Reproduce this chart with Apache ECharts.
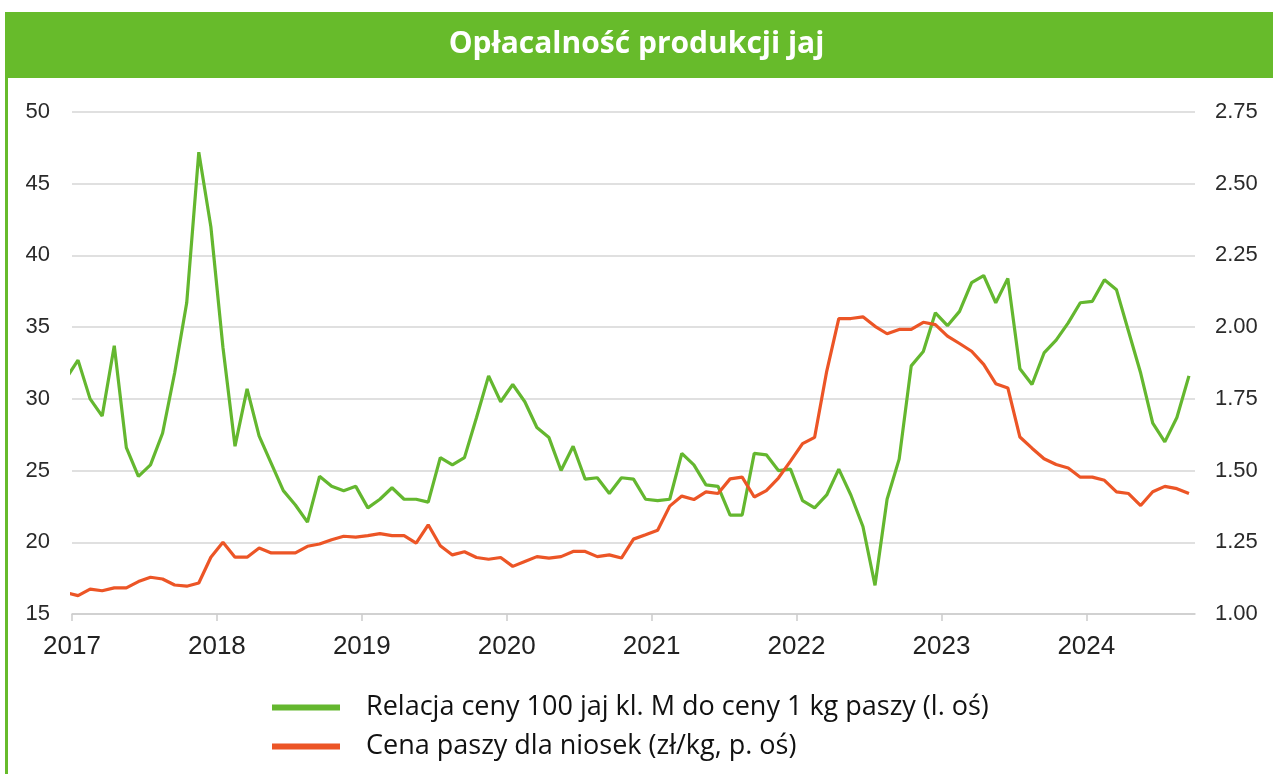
<!DOCTYPE html>
<html lang="pl">
<head>
<meta charset="UTF-8">
<title>Opłacalność produkcji jaj</title>
<script src="https://cdn.jsdelivr.net/npm/echarts@6/dist/echarts.min.js"></script>
<style>
  html, body { margin: 0; padding: 0; background: #fff; }
  #main { width: 1273px; height: 774px; }
</style>
</head>
<body>
<div id="main"></div>
<script>
// x-axis year labels (one per January)
var years = ['2017', '2018', '2019', '2020', '2021', '2022', '2023', '2024'];

// monthly values, first point = Dec 2016 (only partly visible), last = Sep 2024
// relacja ceny 100 jaj kl. M do ceny 1 kg paszy (lewa oś)
var eggFeedRatio = [
  31.4,
  32.7, 30.0, 28.8, 33.7, 26.6, 24.6, 25.4, 27.6, 31.8, 36.7, 47.2, 42.0,
  33.6, 26.7, 30.7, 27.4, 25.5, 23.6, 22.6, 21.4, 24.6, 23.9, 23.6, 23.9,
  22.4, 23.0, 23.8, 23.0, 23.0, 22.8, 25.9, 25.4, 25.9, 28.7, 31.6, 29.8,
  31.0, 29.8, 28.0, 27.3, 25.0, 26.7, 24.4, 24.5, 23.4, 24.5, 24.4, 23.0,
  22.9, 23.0, 26.2, 25.4, 24.0, 23.9, 21.9, 21.9, 26.2, 26.1, 25.0, 25.1,
  22.9, 22.4, 23.3, 25.1, 23.3, 21.1, 17.0, 23.0, 25.8, 32.3, 33.3, 36.0,
  35.1, 36.1, 38.1, 38.6, 36.7, 38.4, 32.1, 31.0, 33.2, 34.1, 35.3, 36.7,
  36.8, 38.3, 37.6, 34.7, 31.8, 28.3, 27.0, 28.7, 31.6
];

// cena paszy dla niosek, zł/kg (prawa oś)
var feedPrice = [
  1.075,
  1.064, 1.087, 1.081, 1.091, 1.091, 1.113, 1.128, 1.122, 1.101, 1.097, 1.108, 1.198,
  1.250, 1.198, 1.198, 1.230, 1.213, 1.213, 1.213, 1.236, 1.244, 1.259, 1.271, 1.268,
  1.273, 1.280, 1.273, 1.273, 1.247, 1.311, 1.238, 1.206, 1.217, 1.197, 1.191, 1.197,
  1.166, 1.183, 1.200, 1.195, 1.200, 1.218, 1.218, 1.200, 1.206, 1.195, 1.261, 1.276,
  1.292, 1.376, 1.411, 1.399, 1.426, 1.420, 1.471, 1.477, 1.408, 1.430, 1.474, 1.533,
  1.594, 1.616, 1.846, 2.030, 2.030, 2.036, 2.003, 1.977, 1.992, 1.992, 2.017, 2.009,
  1.969, 1.943, 1.916, 1.870, 1.803, 1.788, 1.617, 1.578, 1.541, 1.521, 1.509, 1.477,
  1.477, 1.466, 1.426, 1.420, 1.378, 1.426, 1.445, 1.437, 1.420
];

var seriesNames = [
  'Relacja ceny 100 jaj kl. M do ceny 1 kg paszy (l. oś)',
  'Cena paszy dla niosek (zł/kg, p. oś)'
];

// x = months since 1 Jan 2017, points sit mid-month
function toPoints(arr) {
  return arr.map(function (v, i) { return [i - 0.5, v]; });
}
var yearTicks = years.map(function (y, i) { return i * 12; });

var chart = echarts.init(document.getElementById('main'));
var option = {
  backgroundColor: '#fff',
  animation: false,
  title: {
    text: 'Opłacalność produkcji jaj',
    left: 'center',
    top: 24,
    z: 10,
    textStyle: { color: '#fff', fontFamily: 'Open Sans', fontWeight: 'bold', fontSize: 30 }
  },
  graphic: [
    { type: 'rect', z: 0, shape: { x: 5, y: 12, width: 1268, height: 66 }, style: { fill: '#67bb2b' } },
    { type: 'rect', z: 0, shape: { x: 5, y: 12, width: 3, height: 762 }, style: { fill: '#67bb2b' } }
  ],
  legend: {
    orient: 'vertical',
    left: 267,
    top: 689,
    icon: 'rect',
    itemWidth: 68,
    itemHeight: 6,
    itemGap: 12,
    textStyle: { fontFamily: 'Open Sans', fontSize: 27, color: '#111', padding: [0, 0, 0, 21] },
    data: seriesNames
  },
  grid: { left: 72, right: 78, top: 112, bottom: 160 },
  xAxis: {
    type: 'value',
    min: 0,
    max: 93,
    axisLine: { lineStyle: { color: '#cbcbcb', width: 1.5 } },
    axisTick: { length: 7, customValues: yearTicks, lineStyle: { color: '#cbcbcb', width: 1.5 } },
    axisLabel: {
      customValues: yearTicks,
      formatter: function (v) { return years[Math.round(v / 12)]; },
      fontFamily: 'Liberation Sans',
      fontSize: 26,
      color: '#222',
      margin: 20
    },
    splitLine: { show: false }
  },
  yAxis: [
    {
      type: 'value',
      position: 'left',
      min: 15,
      max: 50,
      interval: 5,
      axisLine: { show: false },
      axisTick: { show: false },
      axisLabel: { fontFamily: 'Liberation Sans', fontSize: 22, color: '#2a2a2a', margin: 22 },
      splitLine: { lineStyle: { color: '#d6d6d6', width: 1.5 } }
    },
    {
      type: 'value',
      position: 'right',
      min: 1,
      max: 2.75,
      interval: 0.25,
      axisLine: { show: false },
      axisTick: { show: false },
      axisLabel: {
        fontFamily: 'Liberation Sans', fontSize: 22, color: '#2a2a2a', margin: 20,
        formatter: function (v) { return v.toFixed(2); }
      },
      splitLine: { show: false }
    }
  ],
  series: [
    {
      name: seriesNames[0],
      type: 'line',
      yAxisIndex: 0,
      symbol: 'none',
      color: '#64b72f',
      lineStyle: { width: 3.2, color: '#64b72f' },
      data: toPoints(eggFeedRatio)
    },
    {
      name: seriesNames[1],
      type: 'line',
      yAxisIndex: 1,
      symbol: 'none',
      color: '#ec5526',
      lineStyle: { width: 3.2, color: '#ec5526' },
      data: toPoints(feedPrice)
    }
  ]
};
chart.setOption(option);
</script>
</body>
</html>
